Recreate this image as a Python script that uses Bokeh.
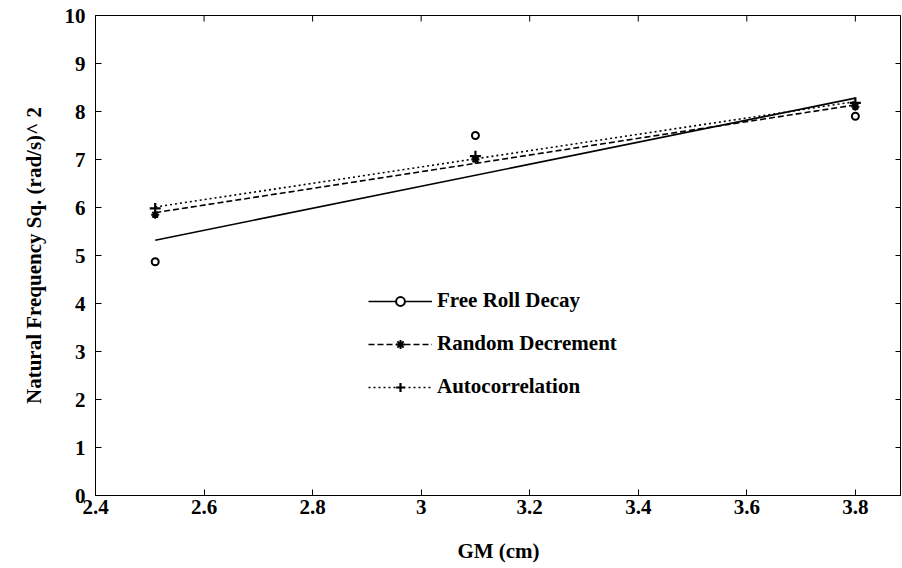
import math
import numpy as np
from bokeh.plotting import figure
from bokeh.models import FixedTicker, CustomJSTickFormatter, Legend, LegendItem, Range1d
from bokeh.embed import file_html
from bokeh.resources import INLINE

# Metacentric height (cm) of each test condition
gm = [2.51, 3.10, 3.80]

# Natural frequency squared (rad/s)^2 from each identification method
free_roll_decay = [4.87, 7.50, 7.90]
random_decrement = [5.85, 7.00, 8.10]
autocorrelation = [5.98, 7.07, 8.18]

x_ticks = [2.4, 2.6, 2.8, 3.0, 3.2, 3.4, 3.6, 3.8]
y_ticks = [0, 1, 2, 3, 4, 5, 6, 7, 8, 9, 10]

X_MIN, X_MAX = 2.4, 3.885
Y_MIN, Y_MAX = 0, 10

FONT = "Liberation Serif"
FS = "21px"

p = figure(frame_width=806, frame_height=480, output_backend="svg",
           toolbar_location=None,
           x_range=Range1d(X_MIN, X_MAX), y_range=Range1d(Y_MIN, Y_MAX),
           min_border_left=95, min_border_right=0, min_border_top=15,
           min_border_bottom=70, x_axis_label="GM (cm)",
           y_axis_label="Natural Frequency Sq. (rad/s)^ 2")
p.grid.visible = False
p.outline_line_color = "black"
p.outline_line_width = 1
p.background_fill_color = "white"
p.border_fill_color = "white"

fmt = CustomJSTickFormatter(code="return (Math.round(tick * 10) / 10).toString();")


def style_axis(ax, ticks):
    ax.ticker = FixedTicker(ticks=ticks)
    ax.formatter = fmt
    ax.axis_line_color = "black"
    ax.axis_line_width = 1
    ax.major_tick_in = 6
    ax.major_tick_out = 0
    ax.major_tick_line_color = "black"
    ax.minor_tick_line_color = None
    ax.major_label_text_font = FONT
    ax.major_label_text_font_style = "bold"
    ax.major_label_text_font_size = FS
    ax.major_label_text_color = "black"
    ax.axis_label_text_font = FONT
    ax.axis_label_text_font_style = "bold"
    ax.axis_label_text_font_size = FS
    ax.axis_label_text_color = "black"


style_axis(p.xaxis[0], x_ticks)
style_axis(p.yaxis[0], y_ticks)
p.xaxis[0].major_label_standoff = 4
p.xaxis[0].axis_label_standoff = 22
p.yaxis[0].major_label_standoff = 10
p.yaxis[0].axis_label_standoff = 16

# Inward tick marks along the top and right edges of the box
p.ray(x=x_ticks, y=[Y_MAX] * len(x_ticks), length=6, length_units="screen",
      angle=-math.pi / 2, line_color="black", line_width=1)
p.ray(x=[X_MAX] * len(y_ticks), y=y_ticks, length=6, length_units="screen",
      angle=math.pi, line_color="black", line_width=1)

# Least-squares straight line through each method's points
x_fit = [gm[0], gm[-1]]


def fit_line(y):
    k, b = np.polyfit(gm, y, 1)
    return [k * x + b for x in x_fit]


l1 = p.line(x_fit, fit_line(free_roll_decay), line_color="black", line_width=1.6)
l2 = p.line(x_fit, fit_line(random_decrement), line_color="black", line_width=1.6,
            line_dash="6 3")
l3 = p.line(x_fit, fit_line(autocorrelation), line_color="black", line_width=1.6,
            line_dash="2 3")

m1 = p.scatter(gm, free_roll_decay, marker="circle", size=7, line_color="black",
               line_width=2, fill_color="white")
m2 = p.scatter(gm, random_decrement, marker="asterisk", size=8, line_color="black",
               line_width=2)
m3 = p.scatter(gm, autocorrelation, marker="cross", size=11, line_color="black",
               line_width=2.2)

legend = Legend(items=[
    LegendItem(label="Free Roll Decay", renderers=[l1, m1]),
    LegendItem(label="Random Decrement", renderers=[l2, m2]),
    LegendItem(label="Autocorrelation", renderers=[l3, m3]),
], location=(273, 96), orientation="vertical")
legend.background_fill_alpha = 0
legend.border_line_color = None
legend.padding = 0
legend.margin = 0
legend.spacing = 18
legend.glyph_width = 64
legend.glyph_height = 22
legend.label_standoff = 5
legend.label_text_font = FONT
legend.label_text_font_style = "bold"
legend.label_text_font_size = FS
legend.label_text_color = "black"
p.add_layout(legend, "center")

open("out.html", "w").write(file_html(p, INLINE))
